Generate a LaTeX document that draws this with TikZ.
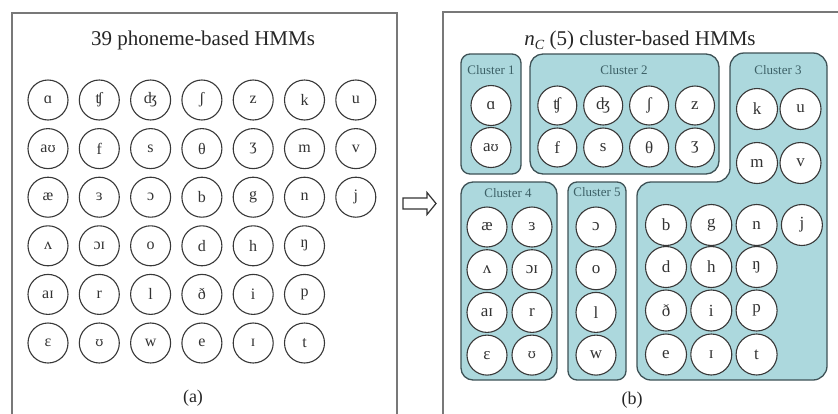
\documentclass[tikz,border=0pt]{standalone}
\usepackage{fontspec}
\setmainfont{Liberation Serif}
\newfontfamily\ipafont{DejaVu Serif}
\newcommand{\upsil}{{\ipafont\fontsize{13}{13}\selectfont ʊ}}
\definecolor{clusterfill}{RGB}{172,216,221}
\definecolor{clusterline}{RGB}{62,82,86}
\definecolor{clustertext}{RGB}{60,96,102}
\definecolor{framegray}{RGB}{120,120,120}
\begin{document}
\begin{tikzpicture}[x=1pt,y=-1pt,
  frame/.style={draw=framegray, line width=1.6pt},
  ph/.style={circle, draw=black!78, line width=1.1pt, fill=white, minimum size=40pt, inner sep=0pt, font=\fontsize{16}{16}\selectfont, text=black!80},
  phr/.style={ph, minimum size=41pt, font=\fontsize{17}{17}\selectfont},
  clus/.style={draw=clusterline, fill=clusterfill, line width=1.3pt, rounded corners=10pt},
  clab/.style={font=\fontsize{13}{13}\selectfont, text=clustertext, inner sep=0pt},
  ttl/.style={font=\fontsize{21}{21}\selectfont, text=black!85, inner sep=0pt},
  captext/.style={font=\fontsize{18}{18}\selectfont, text=black!85, inner sep=0pt},
  blockarrow/.style={draw=black!80, fill=white, line width=1.2pt, line join=miter}
]
\useasboundingbox (0,0) rectangle (838,413);
\clip (0,0) rectangle (838,413);
\fill[white] (0,0) rectangle (838,413);

% frames
\draw[frame] (12,430) -- (12,13) -- (397,13) -- (397,430);
\draw[frame] (443,430) -- (443,12) -- (860,12);

% ---------- panel (a) ----------
\node[ttl] (ta) at (203,40) {39 phoneme-based HMMs};
\foreach \l [count=\c from 0] in {ɑ,ʧ,ʤ,ʃ,z,k,u}
  \node[ph] (a1-\c) at ({48+51.3*\c},100) {\l};
\foreach \l [count=\c from 0] in {a\upsil,f,s,θ,ʒ,m,v}
  \node[ph] (a2-\c) at ({48+51.3*\c},148.6) {\l};
\foreach \l [count=\c from 0] in {æ,ɜ,ɔ,b,g,n,j}
  \node[ph] (a3-\c) at ({48+51.3*\c},197.2) {\l};
\foreach \l [count=\c from 0] in {ʌ,ɔɪ,o,d,h,ŋ}
  \node[ph] (a4-\c) at ({48+51.3*\c},245.8) {\l};
\foreach \l [count=\c from 0] in {aɪ,r,l,ð,i,p}
  \node[ph] (a5-\c) at ({48+51.3*\c},294.4) {\l};
\foreach \l [count=\c from 0] in {ɛ,\upsil,w,e,ɪ,t}
  \node[ph] (a6-\c) at ({48+51.3*\c},343) {\l};
\node[captext] (capa) at (193,398) {(a)};

% block arrow
\draw[blockarrow] (403,198) -- (427,198) -- (427,192.5) -- (436,203.5) -- (427,214.5) -- (427,209) -- (403,209) -- cycle;

% ---------- panel (b) ----------
\node[ttl] (tb) at (640,40) {\textit{n}{\fontsize{14}{14}\selectfont\raisebox{-4pt}{\textit{C}}} (5) cluster-based HMMs};

% cluster boxes
\draw[clus, rounded corners=9pt] (461,54) rectangle (521,174);
\draw[clus, rounded corners=13pt] (530,54) rectangle (719,174);
\draw[clus, rounded corners=14pt] (637,182) -- (730,182) -- (730,53) -- (827,53) -- (827,380) -- (637,380) -- cycle;
\draw[clus, rounded corners=12pt] (461,182) rectangle (557,380);
\draw[clus, rounded corners=9pt] (568,182) rectangle (626,380);

% cluster labels
\node[clab] (c1) at (491,70) {Cluster 1};
\node[clab] (c2) at (624,70) {Cluster 2};
\node[clab] (c3) at (778,70) {Cluster 3};
\node[clab] (c4) at (508,193) {Cluster 4};
\node[clab] (c5) at (597,192) {Cluster 5};

% cluster 1
\node[phr, minimum size=40pt] (b1-0) at (491,105.5) {ɑ};
\node[phr, minimum size=40pt] (b1-1) at (491,147.5) {a\upsil};
% cluster 2
\foreach \l [count=\c from 0] in {ʧ,ʤ,ʃ,z}
  \node[phr, minimum size=39pt] (b2a-\c) at ({557.3+45.9*\c},105.5) {\l};
\foreach \l [count=\c from 0] in {f,s,θ,ʒ}
  \node[phr, minimum size=39pt] (b2b-\c) at ({557.3+45.9*\c},147.5) {\l};
% cluster 3 upper
\node[phr] (b3-k) at (757,109) {k};
\node[phr] (b3-u) at (800.5,109) {u};
\node[phr] (b3-m) at (757,163) {m};
\node[phr] (b3-v) at (800.5,163) {v};
% cluster 3 lower
\foreach \l [count=\c from 0] in {b,g,n,j}
  \node[phr] (b3r1-\c) at ({666+45.3*\c},225) {\l};
\foreach \l [count=\c from 0] in {d,h,ŋ}
  \node[phr] (b3r2-\c) at ({666+45.3*\c},267) {\l};
\foreach \l [count=\c from 0] in {ð,i,p}
  \node[phr] (b3r3-\c) at ({666+45.3*\c},310.5) {\l};
\foreach \l [count=\c from 0] in {e,ɪ,t}
  \node[phr] (b3r4-\c) at ({666+45.3*\c},354.5) {\l};
% cluster 4
\foreach \a/\b [count=\r from 0] in {æ/ɜ,ʌ/ɔɪ,aɪ/r,ɛ/\upsil} {
  \node[phr, minimum size=40pt] (b4a-\r) at (487,{227+42.7*\r}) {\a};
  \node[phr, minimum size=40pt] (b4b-\r) at (532,{227+42.7*\r}) {\b};
}
% cluster 5
\foreach \l [count=\r from 0] in {ɔ,o,l,w}
  \node[phr, minimum size=40pt] (b5-\r) at (596,{227+42.7*\r}) {\l};

\node[captext] (capb) at (632,400) {(b)};
\end{tikzpicture}
\end{document}
